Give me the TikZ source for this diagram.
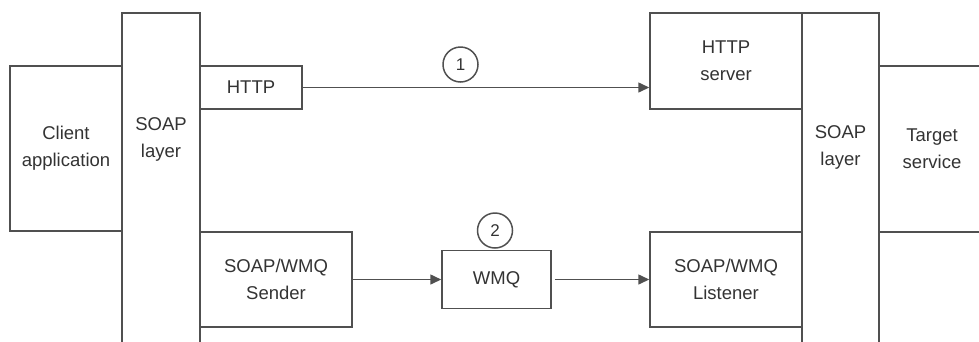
\documentclass[tikz,border=0pt]{standalone}
\usepackage{fontspec}
\setmainfont{Liberation Sans}
\usetikzlibrary{arrows.meta}
\definecolor{linegray}{HTML}{505050}
\definecolor{textgray}{HTML}{333333}
\tikzset{
  line/.style={draw=linegray, line width=1.5pt},
  box/.style={line, rectangle, inner sep=0pt, align=center, text=textgray,
    font=\fontsize{18.5}{27}\selectfont},
  txt/.style={inner sep=0pt, align=center, text=textgray,
    font=\fontsize{18.5}{27}\selectfont},
  num/.style={line, circle, minimum size=35pt, inner sep=0pt, text=textgray,
    font=\fontsize{17}{19}\selectfont},
  conn/.style={line, -{Triangle[length=11pt,width=10pt]}},
}
\begin{document}
\begin{tikzpicture}[x=1pt,y=-1pt]
\useasboundingbox (0,0) rectangle (979,341);
\clip (0,0) rectangle (979,341);
% client application
\node[box, minimum width=112pt, minimum height=165pt] (client) at (66,148.5) {Client\\application};
% left SOAP layer (open at the bottom)
\draw[line] (122,13) rectangle (200,360);
\node[txt] (soapL) at (161,139) {SOAP\\layer};
% HTTP
\node[box, minimum width=102pt, minimum height=43pt] (http) at (251,87.5) {HTTP};
% SOAP/WMQ sender
\node[box, minimum width=152pt, minimum height=95pt] (sender) at (276,279.5) {SOAP/WMQ\\Sender};
% WMQ
\node[box, minimum width=109pt, minimum height=58pt] (wmq) at (496.5,279.5) {WMQ};
% HTTP server
\node[box, minimum width=152pt, minimum height=96pt] (server) at (726,61) {HTTP\\server};
% SOAP/WMQ listener
\node[box, minimum width=152pt, minimum height=95pt] (listener) at (726,279.5) {SOAP/WMQ\\Listener};
% right SOAP layer (open at the bottom)
\draw[line] (802,13) rectangle (879,360);
\node[txt] (soapR) at (840.5,147) {SOAP\\layer};
% target service (open at the right)
\node[box, minimum width=106pt, minimum height=166pt] (target) at (932,149) {Target\\service};
% circled numbers
\node[num] (n1) at (460.5,64.5) {1};
\node[num] (n2) at (495,230.5) {2};
% connectors
\draw[conn] (http.east) -- (http.east -| server.west);
\draw[conn] (sender.east) -- (sender.east -| wmq.west);
\draw[conn, shorten <=3pt] (wmq.east) -- (wmq.east -| listener.west);
\end{tikzpicture}
\end{document}
